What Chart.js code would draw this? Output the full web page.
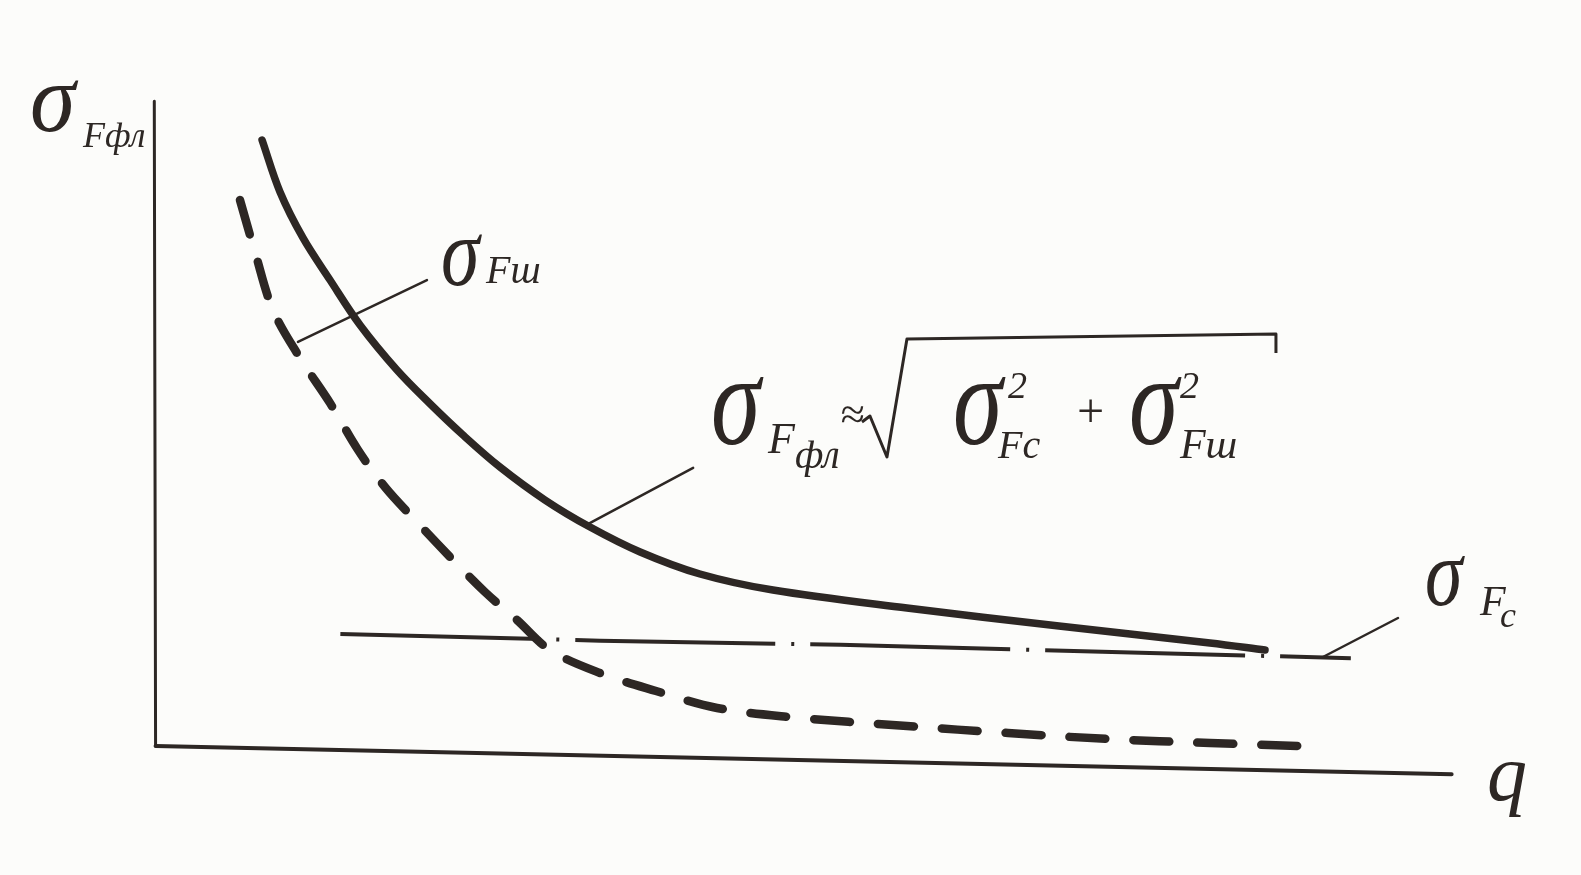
<!DOCTYPE html>
<html>
<head>
<meta charset="utf-8">
<script src="https://cdn.jsdelivr.net/npm/chart.js@4/dist/chart.umd.min.js"></script>
<style>
  html, body { margin: 0; padding: 0; background: #fcfcfa; }
  #wrap { width: 1581px; height: 875px; }
</style>
</head>
<body>
<div id="wrap"><canvas id="chart"></canvas></div>
<script>
const INK = '#2d2724';

// σFфл — total error curve (solid)
const qTotal     = [8.44, 9.83, 11.61, 13.70, 16.02, 18.88, 21.44, 23.99, 26.85, 30.34, 33.82, 37.70, 42.33, 47.98, 58.35, 70.11, 81.80, 86.06];
const sigmaTotal = [94.07, 86.37, 79.56, 73.33, 66.67, 60.00, 55.00, 50.37, 45.63, 40.74, 36.74, 33.04, 29.78, 27.40, 24.74, 22.07, 19.56, 18.52];

// σFш — noise component (dashed)
const qNoise     = [6.73, 7.89, 9.29, 11.38, 13.70, 15.87, 17.95, 20.43, 23.22, 25.69, 28.17, 30.72, 34.59, 38.93, 43.65, 49.30, 58.35, 66.17, 73.98, 81.80, 88.76];
const sigmaNoise = [85.19, 77.48, 68.89, 61.78, 55.11, 48.15, 42.67, 37.48, 31.85, 27.11, 22.96, 18.52, 15.11, 12.44, 9.93, 8.59, 7.26, 6.22, 5.33, 4.74, 4.30];

// σFc — systematic component (dash-dot)
const qConst     = [14.5, 34.6, 53.2, 92.7];
const sigmaConst = [20.9, 19.9, 19.3, 17.3];

// hand-drawn axes
const axisQ      = [0.2, 100.5];
const axisQLevel = [4.3, 0.1];
const axisSigmaQ = [0.1, 0.2];
const axisSigma  = [99.8, 4.3];

// leader lines from labels to curves
const leaderNoiseQ = [11.22, 21.2], leaderNoiseS = [64.15, 73.33];
const leaderTotalQ = [33.8, 41.8],  leaderTotalS = [37.3, 45.5];
const leaderConstQ = [90.54, 96.35], leaderConstS = [17.48, 23.26];

const pts = (xs, ys) => xs.map((x, i) => ({ x, y: ys[i] }));

const line = (data, width, extra = {}) => Object.assign({
  data,
  borderColor: INK,
  borderWidth: width,
  pointRadius: 0,
  fill: false,
  clip: false,
  borderCapStyle: 'round',
  borderJoinStyle: 'round',
}, extra);

const SERIF = '"Liberation Serif", "DejaVu Serif", serif';

// σ written tall, like the handwritten glyph
function sigma(ctx, x, y, size, stretch) {
  ctx.save();
  ctx.translate(x, y);
  ctx.scale(1, stretch);
  ctx.font = `italic ${size}px ${SERIF}`;
  ctx.fillText('σ', 0, 0);
  ctx.restore();
}

function text(ctx, str, x, y, size) {
  ctx.font = `italic ${size}px ${SERIF}`;
  ctx.fillText(str, x, y);
}

const labelsPlugin = {
  id: 'labels',
  afterDatasetsDraw(chart) {
    const { ctx, scales: { x, y } } = chart;
    const at = (q, s) => [x.getPixelForValue(q), y.getPixelForValue(s)];
    ctx.save();
    ctx.fillStyle = INK;
    ctx.strokeStyle = INK;
    ctx.textBaseline = 'alphabetic';

    // vertical axis title σFфл
    let [px, py] = at(-9.52, 95.41);
    sigma(ctx, px, py, 92, 1.05);
    text(ctx, 'Fфл', px + 53, py + 16, 36);

    // σFш
    [px, py] = at(22.29, 72.59);
    sigma(ctx, px, py, 78, 1.25);
    text(ctx, 'Fш', px + 45, py - 2, 40);

    // formula σFфл ≈ √(σ²Fc + σ²Fш)
    [px, py] = at(43.18, 49.04);
    sigma(ctx, px, py, 100, 1.3);
    text(ctx, 'F', px + 57, py + 9, 44);
    text(ctx, 'фл', px + 84, py + 24, 40);
    text(ctx, '≈', px + 129, py - 15, 44);
    ctx.lineWidth = 3;
    ctx.lineJoin = 'round';
    ctx.beginPath();
    ctx.moveTo(px + 151, py - 22);
    ctx.lineTo(px + 159, py - 28);
    ctx.lineTo(px + 176, py + 13);
    ctx.lineTo(px + 196, py - 105);
    ctx.lineTo(px + 565, py - 110);
    ctx.lineTo(px + 565, py - 91);
    ctx.stroke();
    sigma(ctx, px + 242, py, 100, 1.3);
    text(ctx, '2', px + 297, py - 46, 38);
    text(ctx, 'Fc', px + 287, py + 14, 40);
    text(ctx, '+', px + 363, py - 17, 48);
    sigma(ctx, px + 418, py, 100, 1.3);
    text(ctx, '2', px + 469, py - 46, 38);
    text(ctx, 'Fш', px + 469, py + 14, 42);

    // σFc
    [px, py] = at(98.44, 25.19);
    sigma(ctx, px, py, 76, 1.25);
    text(ctx, 'F', px + 55, py + 10, 42);
    text(ctx, 'c', px + 75, py + 22, 36);

    // abscissa q
    [px, py] = at(103.23, -3.7);
    text(ctx, 'q', px, py, 80);
    ctx.restore();
  }
};

new Chart(document.getElementById('chart'), {
  type: 'line',
  data: {
    datasets: [
      line(pts(axisQ, axisQLevel), 4, { tension: 0 }),
      line(pts(axisSigmaQ, axisSigma), 3, { tension: 0 }),
      line(pts(qConst, sigmaConst), 4, { tension: 0, borderDash: [200, 16, 3, 16], borderCapStyle: 'butt' }),
      line(pts(qNoise, sigmaNoise), 8.5, { tension: 0.35, borderDash: [36, 28] }),
      line(pts(qTotal, sigmaTotal), 7.5, { tension: 0.35 }),
      line(pts(leaderNoiseQ, leaderNoiseS), 2.5, { tension: 0 }),
      line(pts(leaderTotalQ, leaderTotalS), 2.5, { tension: 0 }),
      line(pts(leaderConstQ, leaderConstS), 2.5, { tension: 0 }),
    ],
  },
  options: {
    responsive: true,
    maintainAspectRatio: false,
    animation: false,
    layout: { padding: { left: 153, top: 100, right: 110, bottom: 100 } },
    plugins: {
      legend: { display: false },
      tooltip: { enabled: false },
    },
    scales: {
      x: { type: 'linear', min: 0, max: 102, display: false },
      y: { min: 0, max: 100, display: false },
    },
  },
  plugins: [labelsPlugin],
});
</script>
</body>
</html>
